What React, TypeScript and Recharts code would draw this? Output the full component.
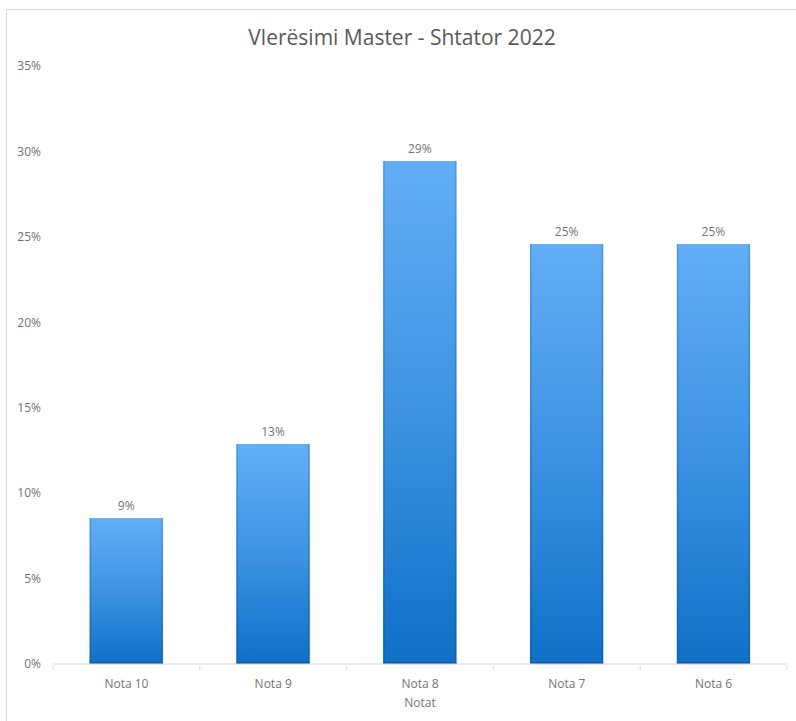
import React from "react";
import { BarChart, Bar, XAxis, YAxis, LabelList } from "recharts";

const categories = ["Nota 10", "Nota 9", "Nota 8", "Nota 7", "Nota 6"];
const shares = [0.0854, 0.1288, 0.2944, 0.2458, 0.2458];
const yTicks = [0, 0.05, 0.1, 0.15, 0.2, 0.25, 0.3, 0.35];

const data = categories.map((name, i) => ({ name, value: shares[i] }));

const CHART_W = 790;
const CHART_H = 712;
const MARGIN = { top: 57, right: 9, bottom: 17, left: 0 };
const Y_W = 47;
const BAND = (CHART_W - MARGIN.left - MARGIN.right - Y_W) / categories.length;

const font = "'Open Sans', sans-serif";
const titleColor = "#595959";
const tickColor = "#737373";

function GradientBar(props: any) {
  const { x, y, width, height } = props;
  if (!height || height <= 0) return null;
  return (
    <g>
      <rect x={x + 1} y={y + 1} width={width} height={height} fill="#000" opacity={0.08} />
      <rect x={x} y={y} width={width} height={height} fill="url(#barGrad)" />
      <rect x={x} y={y} width={1.5} height={height} fill="url(#edgeGrad)" />
      <rect x={x + width - 1.5} y={y} width={1.5} height={height} fill="url(#edgeGrad)" />
      <rect x={x} y={y + height - 2} width={width} height={2} fill="#0a5ea8" />
    </g>
  );
}

function CategoryTick(props: any) {
  const { x, y, payload, index } = props;
  const last = index === categories.length - 1;
  return (
    <g>
      <line x1={x - BAND / 2} y1={y - 8} x2={x - BAND / 2} y2={y - 4} stroke="#d9d9d9" />
      {last && <line x1={x + BAND / 2} y1={y - 8} x2={x + BAND / 2} y2={y - 4} stroke="#d9d9d9" />}
      <text x={x} y={y + 14} textAnchor="middle" fill={tickColor} fontSize={12} fontFamily={font}>
        {payload.value}
      </text>
    </g>
  );
}

export default function App() {
  return (
    <div
      style={{
        position: "absolute",
        left: 6,
        top: 9,
        width: 800,
        height: 730,
        border: "1px solid #d9d9d9",
        boxSizing: "border-box",
        background: "#fff",
      }}
    >
      <div
        style={{
          position: "absolute",
          left: 0,
          top: 13,
          width: CHART_W,
          textAlign: "center",
          fontFamily: font,
          fontSize: 21,
          color: titleColor,
        }}
      >
        Vlerësimi Master - Shtator 2022
      </div>
      <div style={{ position: "absolute", left: -1, top: -1 }}>
        <BarChart width={CHART_W} height={CHART_H} data={data} margin={MARGIN} barCategoryGap="25%">
          <defs>
            <linearGradient id="barGrad" x1="0" y1="0" x2="0" y2="1">
              <stop offset="0%" stopColor="#63aef5" />
              <stop offset="50%" stopColor="#3d93e3" />
              <stop offset="100%" stopColor="#0e70c6" />
            </linearGradient>
            <linearGradient id="edgeGrad" x1="0" y1="0" x2="0" y2="1">
              <stop offset="0%" stopColor="#4f99e0" />
              <stop offset="100%" stopColor="#0b62b0" />
            </linearGradient>
          </defs>
          <YAxis
            width={Y_W}
            domain={[0, 0.35]}
            ticks={yTicks}
            tickFormatter={(v: number) => `${Math.round(v * 100)}%`}
            axisLine={false}
            tickLine={false}
            tickSize={6}
            tickMargin={6}
            tick={{ fill: tickColor, fontSize: 12, fontFamily: font }}
          />
          <XAxis
            dataKey="name"
            height={40}
            axisLine={{ stroke: "#d9d9d9" }}
            tickLine={false}
            tickSize={8}
            tick={<CategoryTick />}
            interval={0}
            label={{
              value: "Notat",
              position: "insideBottom",
              offset: -3,
              fill: tickColor,
              fontSize: 12,
              fontFamily: font,
            }}
          />
          <Bar dataKey="value" shape={<GradientBar />} isAnimationActive={false}>
            <LabelList
              dataKey="value"
              position="top"
              offset={8}
              formatter={(v: number) => `${Math.round(v * 100)}%`}
              fill={tickColor}
              fontSize={12}
              fontFamily={font}
            />
          </Bar>
        </BarChart>
      </div>
    </div>
  );
}
